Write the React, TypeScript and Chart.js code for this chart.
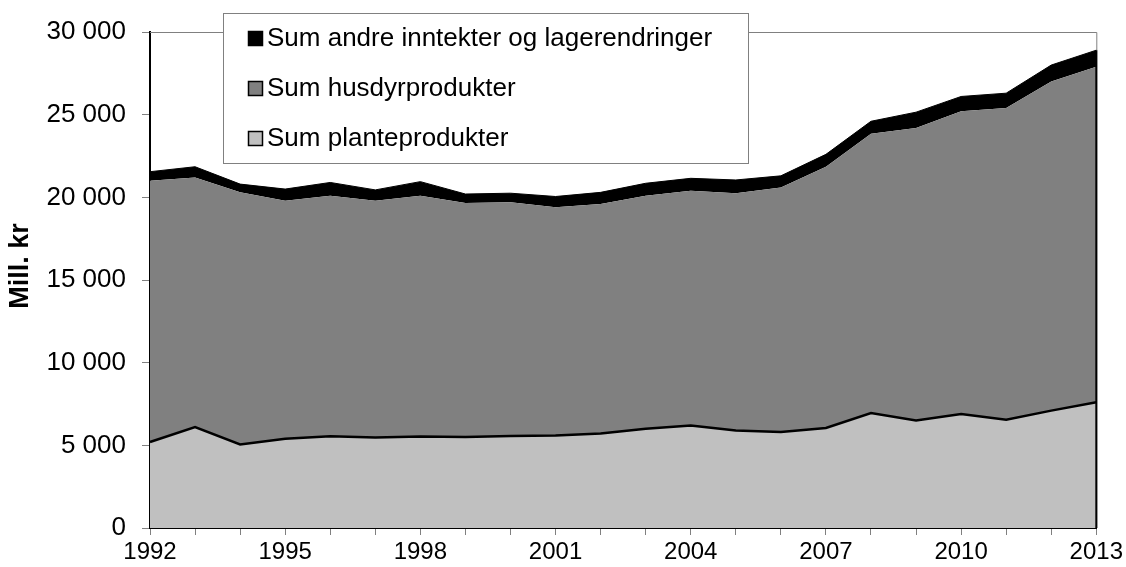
import React, { useEffect, useRef } from "react";
import { Chart, registerables } from "chart.js";

Chart.register(...registerables);

const years: string[] = [
  "1992", "1993", "1994", "1995", "1996", "1997", "1998", "1999", "2000", "2001", "2002",
  "2003", "2004", "2005", "2006", "2007", "2008", "2009", "2010", "2011", "2012", "2013",
];
const shownYearLabels: string[] = ["1992", "1995", "1998", "2001", "2004", "2007", "2010", "2013"];

const planteprodukter: number[] = [
  5200, 6100, 5050, 5400, 5550, 5480, 5530, 5500, 5570, 5590, 5720,
  6000, 6200, 5900, 5800, 6050, 6950, 6500, 6900, 6550, 7100, 7600,
];
const husdyrprodukter: number[] = [
  15800, 15100, 15250, 14400, 14550, 14320, 14570, 14150, 14130, 13810, 13880,
  14100, 14200, 14350, 14800, 15800, 16900, 17700, 18300, 18850, 19900, 20300,
];
const andreInntekter: number[] = [
  550, 650, 500, 700, 800, 650, 850, 550, 550, 650, 700,
  750, 750, 800, 700, 750, 750, 950, 900, 900, 1000, 1000,
];

const seriesLabels: string[] = [
  "Sum planteprodukter",
  "Sum husdyrprodukter",
  "Sum andre inntekter og lagerendringer",
];
const seriesColors: string[] = ["#C0C0C0", "#808080", "#000000"];

const yMin = 0;
const yMax = 30000;
const yStep = 5000;
const yTitle = "Mill. kr";

const FONT = "'Liberation Sans', Arial, Helvetica, sans-serif";

const plotFramePlugin = {
  id: "plotFrame",
  beforeDatasetsDraw(chart: any) {
    const { ctx, chartArea } = chart;
    ctx.save();
    ctx.strokeStyle = "#808080";
    ctx.lineWidth = 1;
    ctx.beginPath();
    ctx.moveTo(chartArea.left, chartArea.top + 0.5);
    ctx.lineTo(chartArea.right + 0.5, chartArea.top + 0.5);
    ctx.lineTo(chartArea.right + 0.5, chartArea.bottom);
    ctx.stroke();
    ctx.restore();
  },
  afterDatasetsDraw(chart: any) {
    const { ctx, chartArea } = chart;
    const meta = chart.getDatasetMeta(chart.data.datasets.length - 1);
    const last = meta.data[meta.data.length - 1];
    if (!last) return;
    ctx.save();
    ctx.strokeStyle = "#000000";
    ctx.lineWidth = 2;
    ctx.beginPath();
    ctx.moveTo(chartArea.right, last.y);
    ctx.lineTo(chartArea.right, chartArea.bottom);
    ctx.stroke();
    ctx.restore();
  },
};

const axisTitlePlugin = {
  id: "axisTitle",
  afterDraw(chart: any) {
    const { ctx } = chart;
    ctx.save();
    ctx.translate(21, 266);
    ctx.rotate(-Math.PI / 2);
    ctx.font = `bold 27px ${FONT}`;
    ctx.fillStyle = "#000000";
    ctx.textAlign = "center";
    ctx.textBaseline = "middle";
    ctx.fillText(yTitle, 0, 0);
    ctx.restore();
  },
};

const insideLegendPlugin = {
  id: "insideLegend",
  afterDraw(chart: any) {
    const { ctx } = chart;
    const left = 223;
    const top = 13;
    const right = 748;
    const bottom = 163;
    ctx.save();
    ctx.fillStyle = "#ffffff";
    ctx.fillRect(left, top, right - left, bottom - top);
    ctx.strokeStyle = "#808080";
    ctx.lineWidth = 1;
    ctx.strokeRect(left + 0.5, top + 0.5, right - left, bottom - top);
    const ds = chart.data.datasets;
    const rowY = [38, 88, 138];
    ctx.font = `26px ${FONT}`;
    ctx.textBaseline = "middle";
    ctx.textAlign = "left";
    for (let i = 0; i < ds.length; i++) {
      const d = ds[ds.length - 1 - i];
      const y = rowY[i];
      ctx.fillStyle = d.backgroundColor;
      ctx.fillRect(248, y - 7, 15, 15);
      ctx.strokeStyle = "#000000";
      ctx.lineWidth = 1.5;
      ctx.strokeRect(248.5, y - 6.5, 14, 14);
      ctx.fillStyle = "#000000";
      ctx.fillText(d.label, 267, y + 1);
    }
    ctx.restore();
  },
};

export default function App() {
  const canvasRef = useRef<HTMLCanvasElement | null>(null);

  useEffect(() => {
    if (!canvasRef.current) return;
    const values = [planteprodukter, husdyrprodukter, andreInntekter];
    const chart = new Chart(canvasRef.current, {
      type: "line",
      data: {
        labels: years,
        datasets: values.map((v, i) => ({
          label: seriesLabels[i],
          data: v,
          backgroundColor: seriesColors[i],
          borderColor: i === 1 ? "#808080" : "#000000",
          borderWidth: i === 0 ? 2.5 : i === 1 ? 0 : 1,
          fill: i === 0 ? "origin" : "-1",
          pointRadius: 0,
          pointHoverRadius: 0,
          tension: 0,
        })),
      },
      options: {
        responsive: false,
        animation: false,
        events: [],
        layout: { padding: { left: 0, right: 29, top: 32, bottom: 0 } },
        plugins: {
          legend: { display: false },
          tooltip: { enabled: false },
          title: { display: false },
        },
        scales: {
          x: {
            type: "category",
            offset: false,
            grid: {
              display: true,
              drawOnChartArea: false,
              drawTicks: true,
              tickLength: 7,
              color: "#808080",
              lineWidth: 1,
            },
            border: { display: true, color: "#000000", width: 2 },
            ticks: {
              autoSkip: false,
              maxRotation: 0,
              minRotation: 0,
              padding: 3,
              color: "#000000",
              font: { family: FONT, size: 24 },
              callback: function (this: any, _v: any, idx: number) {
                const lab = years[idx];
                return shownYearLabels.includes(lab) ? lab : "";
              },
            },
            afterFit: (scale: any) => {
              scale.height = 39;
            },
          },
          y: {
            stacked: true,
            min: yMin,
            max: yMax,
            grid: {
              display: true,
              drawOnChartArea: false,
              drawTicks: true,
              tickLength: 8,
              color: "#808080",
              lineWidth: 1,
            },
            border: { display: true, color: "#000000", width: 2 },
            ticks: {
              stepSize: yStep,
              padding: 16,
              color: "#000000",
              font: { family: FONT, size: 26 },
              callback: (v: any) => (Number(v) === 0 ? "0" : `${Number(v) / 1000} 000`),
            },
            title: { display: false },
            afterFit: (scale: any) => {
              scale.width = 150;
            },
          },
        },
      },
      plugins: [plotFramePlugin, insideLegendPlugin, axisTitlePlugin],
    });
    return () => chart.destroy();
  }, []);

  return (
    <div style={{ position: "absolute", left: 0, top: 0, width: 1126, height: 567, background: "#fff" }}>
      <canvas ref={canvasRef} width={1126} height={567} style={{ display: "block" }} />
    </div>
  );
}
